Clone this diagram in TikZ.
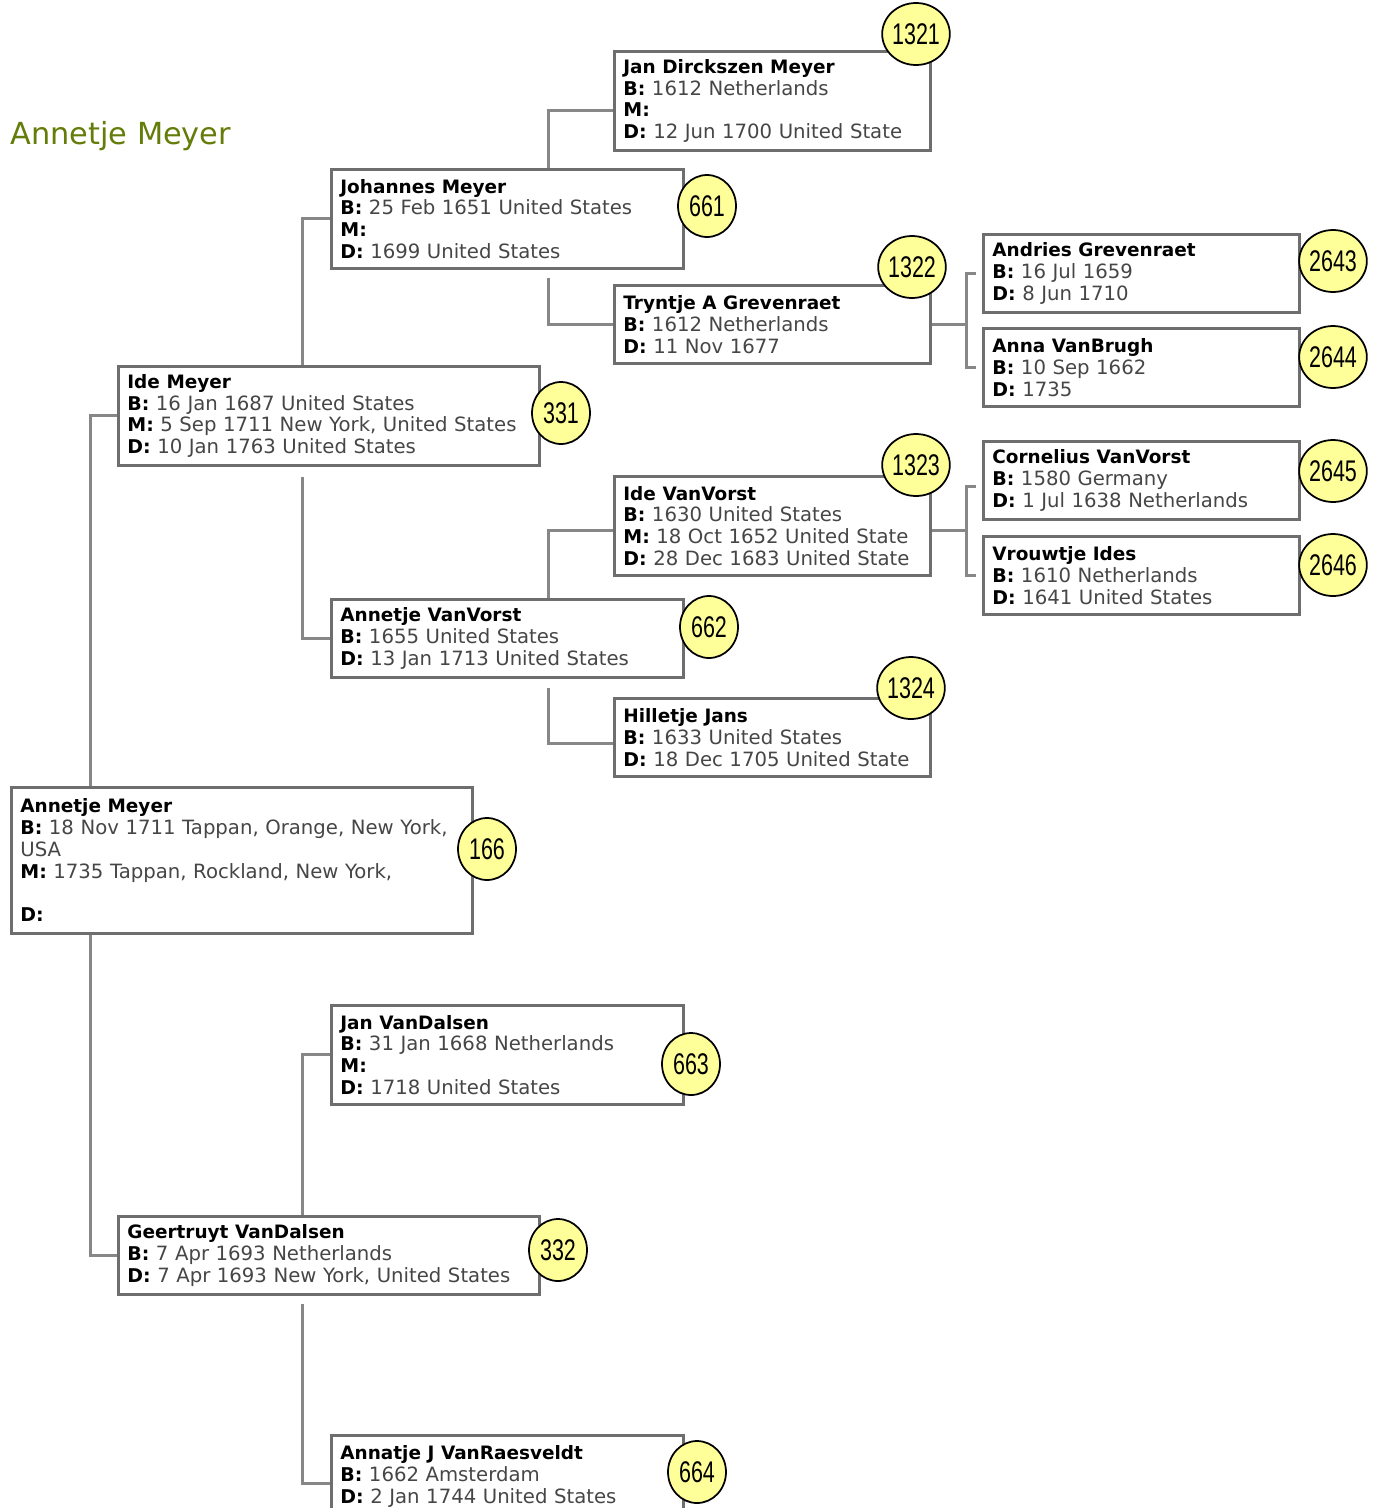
\documentclass[tikz,border=0pt]{standalone}
\usepackage{fontspec}
\setmainfont{DejaVu Sans}
\newfontfamily\badgefont{Liberation Sans}
\usetikzlibrary{positioning,shapes.geometric}

\definecolor{boxgray}{RGB}{110,110,110}
\definecolor{linkgray}{RGB}{135,135,135}
\definecolor{valuegray}{RGB}{70,70,70}
\definecolor{badgeyellow}{RGB}{255,255,153}
\definecolor{titlegreen}{RGB}{100,125,10}

\newcommand{\who}[1]{\textcolor{black}{\fontsize{10.5}{12.4}\selectfont\textbf{#1}}}
\newcommand{\fld}[1]{\textcolor{black}{\fontsize{10.8}{12.4}\selectfont\textbf{#1}}}
\newcommand{\num}[1]{\scalebox{0.72}[1]{#1}}

\begin{document}
\begin{tikzpicture}[x=0.02cm, y=-0.02cm,
    person/.style={rectangle, draw=boxgray, line width=0.055cm, fill=white, anchor=north west,
                   align=left, inner xsep=0.18cm, inner ysep=0.1cm,
                   font=\fontsize{11.2}{12.4}\selectfont, text=valuegray},
    gen0/.style={person, minimum width=9.22cm, text width=8.86cm},
    gen1/.style={person, minimum width=8.42cm, text width=8.06cm},
    gen2/.style={person, minimum width=7.04cm, text width=6.68cm},
    gen3/.style={person, minimum width=6.32cm, text width=5.96cm},
    short/.style={minimum height=1.56cm},
    tall/.style={minimum height=1.98cm},
    badge/.style={ellipse, draw=black, line width=0.035cm, fill=badgeyellow,
                  minimum width=1.16cm, minimum height=1.24cm, inner sep=0pt,
                  font=\badgefont\fontsize{17}{17}\selectfont},
    link/.style={draw=linkgray, line width=0.06cm}]
    \clip (0,0) rectangle (1377,1508);
    % title
    \node[anchor=base west, inner sep=0pt, text=titlegreen, font=\fontsize{17.3}{19}\selectfont] (title) at (10,144) {Annetje Meyer};
    % people
    \node[gen0, minimum height=2.92cm] (root) at (10,786)
        {\who{Annetje Meyer}\\ \fld{B:} 18 Nov 1711 Tappan, Orange, New York,\\ USA\\ \fld{M:} 1735 Tappan, Rockland, New York,\\ \mbox{}\\ \fld{D:}};
    \node[gen1, tall] (ide) at (117,365)
        {\who{Ide Meyer}\\ \fld{B:} 16 Jan 1687 United States\\ \fld{M:} 5 Sep 1711 New York, United States\\ \fld{D:} 10 Jan 1763 United States};
    \node[gen1, short] (geert) at (117,1215)
        {\who{Geertruyt VanDalsen}\\ \fld{B:} 7 Apr 1693 Netherlands\\ \fld{D:} 7 Apr 1693 New York, United States};
    \node[gen2, tall] (johannes) at (330,168)
        {\who{Johannes Meyer}\\ \fld{B:} 25 Feb 1651 United States\\ \fld{M:}\\ \fld{D:} 1699 United States};
    \node[gen2, short] (annvv) at (330,598)
        {\who{Annetje VanVorst}\\ \fld{B:} 1655 United States\\ \fld{D:} 13 Jan 1713 United States};
    \node[gen2, tall] (janvd) at (330,1004)
        {\who{Jan VanDalsen}\\ \fld{B:} 31 Jan 1668 Netherlands\\ \fld{M:}\\ \fld{D:} 1718 United States};
    \node[gen2, minimum height=1.64cm] (annatje) at (330,1434)
        {\who{Annatje J VanRaesveldt}\\ \fld{B:} 1662 Amsterdam\\ \fld{D:} 2 Jan 1744 United States};
    \node[gen3, tall] (jan) at (613,50)
        {\who{Jan Dirckszen Meyer}\\ \fld{B:} 1612 Netherlands\\ \fld{M:}\\ \fld{D:} 12 Jun 1700 United State};
    \node[gen3, short] (tryntje) at (613,284)
        {\who{Tryntje A Grevenraet}\\ \fld{B:} 1612 Netherlands\\ \fld{D:} 11 Nov 1677};
    \node[gen3, tall] (idevv) at (613,475)
        {\who{Ide VanVorst}\\ \fld{B:} 1630 United States\\ \fld{M:} 18 Oct 1652 United State\\ \fld{D:} 28 Dec 1683 United State};
    \node[gen3, short] (hilletje) at (613,697)
        {\who{Hilletje Jans}\\ \fld{B:} 1633 United States\\ \fld{D:} 18 Dec 1705 United State};
    \node[gen3, short] (andries) at (982,233)
        {\who{Andries Grevenraet}\\ \fld{B:} 16 Jul 1659\\ \fld{D:} 8 Jun 1710};
    \node[gen3, short] (anna) at (982,327)
        {\who{Anna VanBrugh}\\ \fld{B:} 10 Sep 1662\\ \fld{D:} 1735};
    \node[gen3, short] (cornelius) at (982,440)
        {\who{Cornelius VanVorst}\\ \fld{B:} 1580 Germany\\ \fld{D:} 1 Jul 1638 Netherlands};
    \node[gen3, short] (vrouwtje) at (982,535)
        {\who{Vrouwtje Ides}\\ \fld{B:} 1610 Netherlands\\ \fld{D:} 1641 United States};
    % lines
    \draw[link] (root.north west) ++(80,0) |- (ide.west);
    \draw[link] (root.south west) ++(80,0) |- (geert.west);
    \draw[link] (ide.north west) ++(185,0) |- (johannes.west);
    \draw[link] (ide.south west) ++(185,10) |- (annvv.west);
    \draw[link] (geert.north west) ++(185,0) |- (janvd.west);
    \draw[link] (geert.south west) ++(185,8) |- ([yshift=-0.14cm]annatje.west);
    \draw[link] (johannes.north west) ++(218,0) |- ([yshift=-0.2cm]jan.west);
    \draw[link] (johannes.south west) ++(218,8) |- (tryntje.west);
    \draw[link] (annvv.north west) ++(218,0) |- ([yshift=-0.1cm]idevv.west);
    \draw[link] (annvv.south west) ++(218,9) |- ([yshift=-0.12cm]hilletje.west);
    \draw[link] (tryntje.east) -- ++(35,0) coordinate (forkA);
    \draw[link] ([xshift=-0.12cm]andries.west) -| (forkA) |- ([xshift=-0.12cm]anna.west);
    \draw[link] ([yshift=-0.1cm]idevv.east) -- ++(35,0) coordinate (forkB);
    \draw[link] ([shift={(-0.12cm,-0.12cm)}]cornelius.west) -| (forkB) |- ([xshift=-0.12cm]vrouwtje.west);
    % badges
    \node[badge] (n166)  at (487,849)  {\num{166}};
    \node[badge] (n331)  at (561,413)  {\num{331}};
    \node[badge] (n332)  at (558,1250) {\num{332}};
    \node[badge] (n661)  at (707,206)  {\num{661}};
    \node[badge] (n662)  at (709,627)  {\num{662}};
    \node[badge] (n663)  at (691,1064) {\num{663}};
    \node[badge] (n664)  at (697,1472) {\num{664}};
    \node[badge] (n1321) at (916,34)   {\num{1321}};
    \node[badge] (n1322) at (912,267)  {\num{1322}};
    \node[badge] (n1323) at (916,465)  {\num{1323}};
    \node[badge] (n1324) at (911,688)  {\num{1324}};
    \node[badge] (n2643) at (1333,261) {\num{2643}};
    \node[badge] (n2644) at (1333,357) {\num{2644}};
    \node[badge] (n2645) at (1333,471) {\num{2645}};
    \node[badge] (n2646) at (1333,565) {\num{2646}};
\end{tikzpicture}
\end{document}
